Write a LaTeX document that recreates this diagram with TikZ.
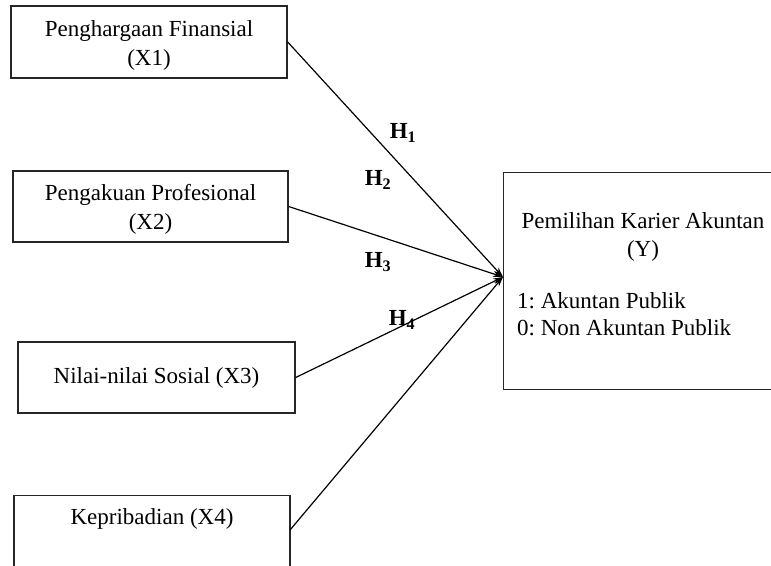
\documentclass[tikz,border=0pt]{standalone}
\usepackage{fontspec}
\setmainfont{Liberation Serif}
\usetikzlibrary{arrows.meta}
\frenchspacing
\begin{document}
\begin{tikzpicture}[x=1pt,y=-1pt,
  every node/.style={font=\fontsize{23}{29}\selectfont, inner sep=0pt},
  varbox/.style={draw=black!85, line width=1.4pt, align=center},
  lbl/.style={font=\fontsize{23}{29}\selectfont\bfseries},
  link/.style={line width=1.2pt, -{Stealth[length=10pt,width=6pt]}}]
\clip (0,0) rectangle (771,565);
\fill[white] (0,0) rectangle (771,565);
% independent variables
\node[varbox, minimum width=276, minimum height=72] (x1) at (149,42) {};
\node[align=center] (x1t) at (149,45) {Penghargaan Finansial\\(X1)};
\node[varbox, minimum width=275, minimum height=71] (x2) at (150.5,206.5) {};
\node[align=center] (x2t) at (150.5,209) {Pengakuan Profesional\\(X2)};
\node[varbox, minimum width=277, minimum height=71] (x3) at (156.5,377.5)
  {Nilai-nilai Sosial (X3)};
\node[varbox, minimum width=276, minimum height=110, anchor=north] (x4) at (152,495) {};
\node[anchor=base] (x4t) at (152,524) {Kepribadian (X4)};
\coordinate (x4out) at (290,530);
% dependent variable
\node[varbox, minimum width=290, minimum height=217, anchor=north west] (y) at (503,172) {};
\node[anchor=base] (yt) at (643,228) {Pemilihan Karier Akuntan};
\node[anchor=base] (yt2) at (643,256) {(Y)};
\node[anchor=base west] (y1) at (517,308) {1: Akuntan Publik};
\node[anchor=base west] (y0) at (517,335) {0: Non Akuntan Publik};
\coordinate (tgt) at (503,277);
% connectors
\draw[link] (x1.east) -- (tgt);
\draw[link] (x2.east) -- (tgt);
\draw[link] (x3.east) -- (tgt);
\draw[link] (x4out) -- (tgt);
% hypothesis labels
\node[lbl] (h1) at (403,133) {H\textsubscript{1}};
\node[lbl] (h2) at (378,180) {H\textsubscript{2}};
\node[lbl] (h3) at (378,262) {H\textsubscript{3}};
\node[lbl] (h4) at (402,320) {H\textsubscript{4}};
\end{tikzpicture}
\end{document}
